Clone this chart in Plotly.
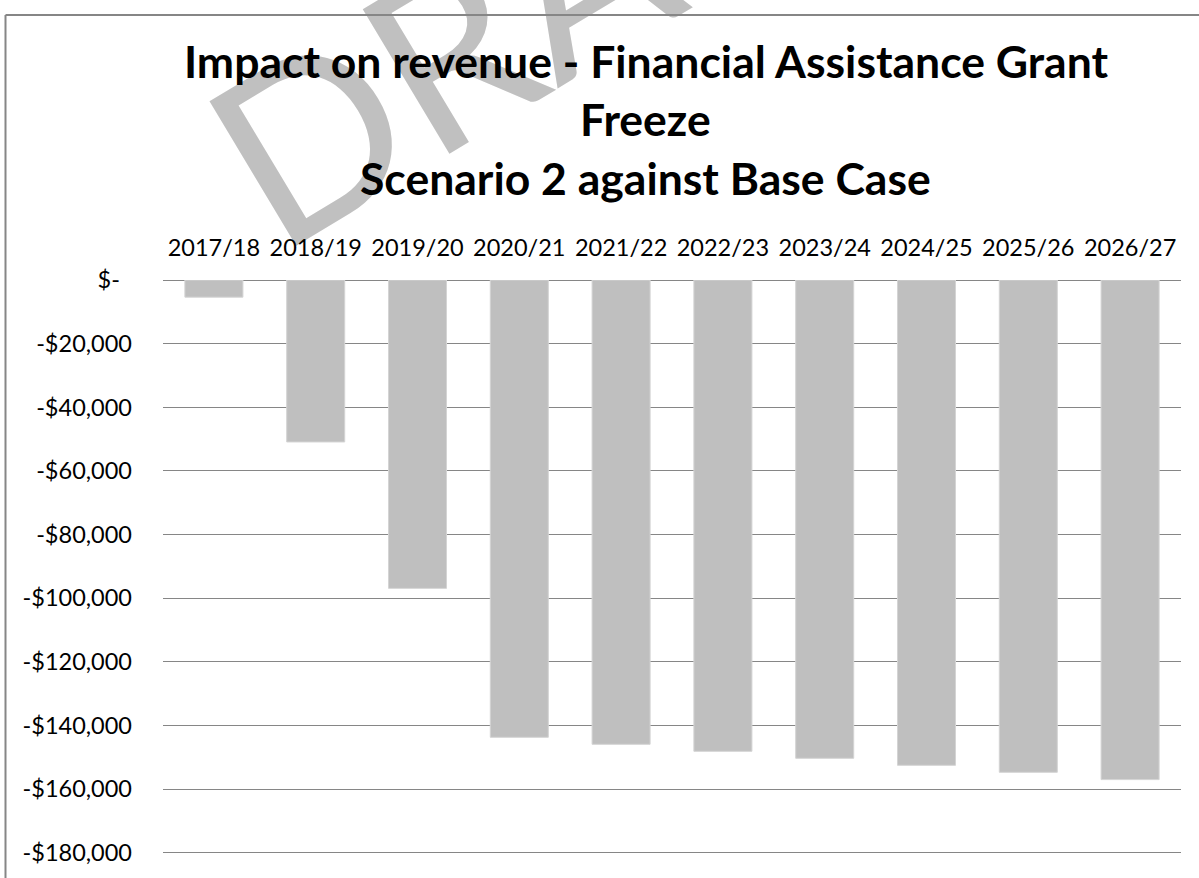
import math
import plotly.graph_objects as go

# Financial years and revenue impact (AUD) of the grant freeze
years = ["2017/18", "2018/19", "2019/20", "2020/21", "2021/22",
         "2022/23", "2023/24", "2024/25", "2025/26", "2026/27"]
impact = [-5400, -50900, -96900, -143700, -145900,
          -148100, -150300, -152500, -154700, -157000]

y_tick_vals = [0, -20000, -40000, -60000, -80000, -100000,
               -120000, -140000, -160000, -180000]
y_tick_text = ["$-\u00a0\u00a0", "-$20,000", "-$40,000", "-$60,000", "-$80,000",
               "-$100,000", "-$120,000", "-$140,000", "-$160,000", "-$180,000"]

title_lines = ["Impact on revenue - Financial Assistance Grant",
               "Freeze",
               "Scenario 2 against Base Case"]

W, H = 1199, 878
ML, MR, MT, MB = 163, 18, 280, 19
PW, PH = W - ML - MR, H - MT - MB
Y_MIN = -181000  # a little below the last gridline so it is drawn


def px_x(px):
    return (px - ML) / PW


def px_y(py):
    return (H - MB - py) / PH


FONT = "Lato"
GRID = "#868686"

fig = go.Figure(
    go.Bar(
        x=years,
        y=impact,
        marker=dict(color="#BFBFBF", line=dict(color="#D4D4D4", width=1)),
        hoverinfo="skip",
    )
)

fig.update_layout(
    width=W,
    height=H,
    margin=dict(l=ML, r=MR, t=MT, b=MB),
    paper_bgcolor="white",
    plot_bgcolor="white",
    bargap=0.43,
    showlegend=False,
    font=dict(family=FONT, color="black"),
)

fig.update_xaxes(
    type="category",
    side="top",
    showgrid=False,
    showline=False,
    ticks="",
    tickfont=dict(family=FONT, size=23.5, color="black"),
    ticklabelstandoff=18,
)

fig.update_yaxes(
    range=[Y_MIN, 0],
    tickvals=y_tick_vals,
    ticktext=y_tick_text,
    showgrid=True,
    gridcolor=GRID,
    gridwidth=1.4,
    zeroline=True,
    zerolinecolor=GRID,
    zerolinewidth=1.4,
    showline=False,
    ticks="",
    tickfont=dict(family=FONT, size=23.5, color="black"),
    ticklabelstandoff=30,
)

# Chart-area border (top and left edges)
x_left, y_top = px_x(5.5), px_y(13.5)
fig.add_shape(type="line", xref="paper", yref="paper",
              x0=x_left, x1=x_left, y0=-0.2, y1=y_top,
              line=dict(color=GRID, width=2))
fig.add_shape(type="line", xref="paper", yref="paper",
              x0=x_left, x1=1.2, y0=y_top, y1=y_top,
              line=dict(color=GRID, width=2))

# "DRAFT" watermark behind the chart, rotated so its baseline starts near (288, 238)
wm_size, wm_angle = 235, 31
ang = math.radians(wm_angle)
ux, uy = math.cos(ang), -math.sin(ang)
vx, vy = -math.sin(ang), -math.cos(ang)
half_w, half_cap = 1.535 * wm_size, 0.36 * wm_size
wcx = 288 + ux * half_w + vx * half_cap
wcy = 238 + uy * half_w + vy * half_cap
cx, cy = px_x(wcx), px_y(wcy)
fig.add_shape(
    type="rect", xref="paper", yref="paper",
    x0=cx - 0.05, x1=cx + 0.05, y0=cy - 0.05, y1=cy + 0.05,
    line=dict(width=0), fillcolor="rgba(0,0,0,0)", layer="below",
    label=dict(text="DRAFT", textangle=-wm_angle, textposition="middle center",
               font=dict(family=FONT, size=wm_size, color="#C0C0C0")),
)

# Title, one annotation per line
title_size = 44.5
title_centers = [59, 118, 177]
for line, cyp in zip(title_lines, title_centers):
    fig.add_annotation(
        text=f"<b>{line}</b>",
        xref="paper", yref="paper",
        x=px_x(645.5), y=px_y(cyp),
        xanchor="center", yanchor="middle",
        showarrow=False,
        font=dict(family=FONT, size=title_size, color="black"),
    )

fig.write_html("out.html")
